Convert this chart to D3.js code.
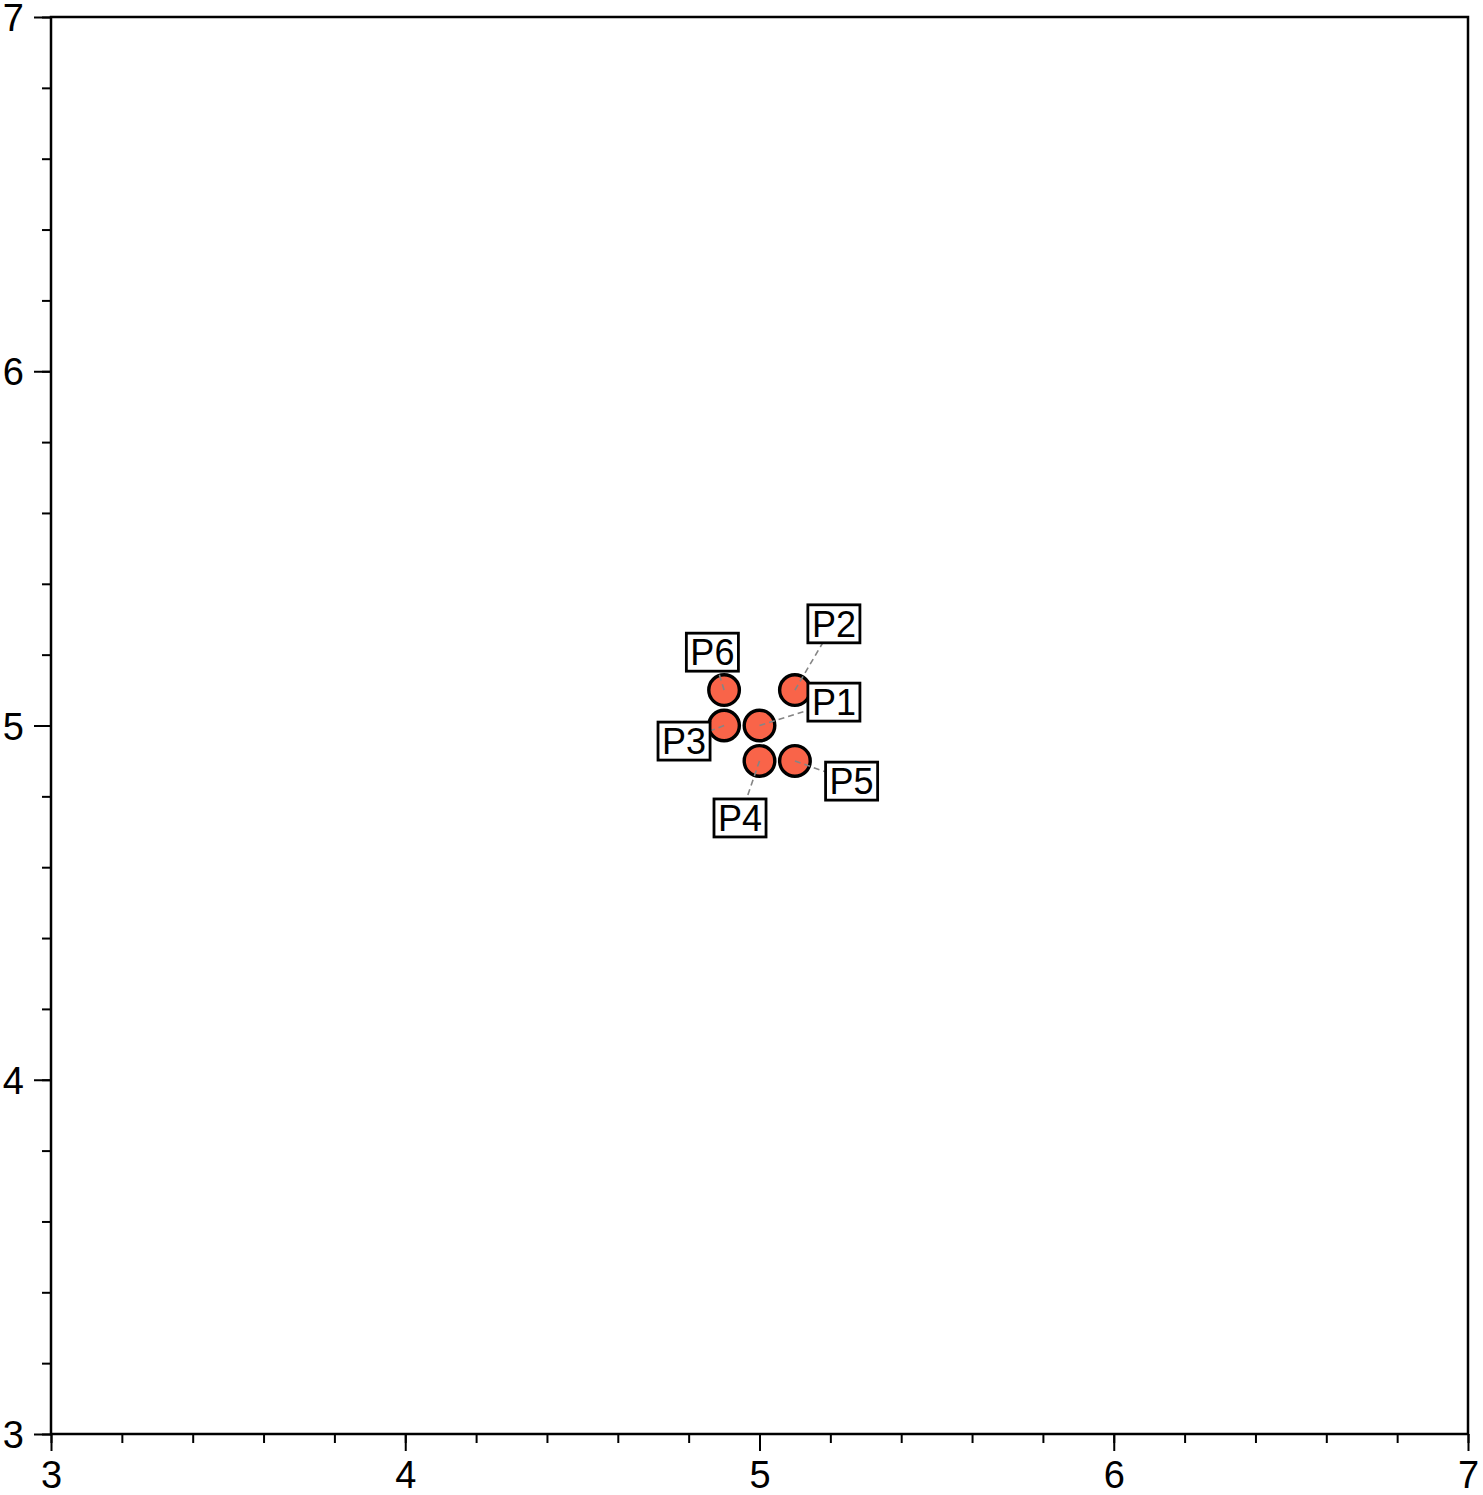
<!DOCTYPE html>
<html>
<head>
<meta charset="utf-8">
<script src="https://cdn.jsdelivr.net/npm/d3@7"></script>
<style>
  html, body { margin: 0; padding: 0; background: #fff; }
  svg { display: block; }
  text { font-family: "Liberation Sans", Arial, Helvetica, sans-serif; fill: #000; }
</style>
</head>
<body>
<svg id="chart" width="1483" height="1495"></svg>
<script>
// ---- data ----
const names  = ["P1", "P2", "P3", "P4", "P5", "P6"];
const xs     = [5.0, 5.1, 4.9, 5.0, 5.1, 4.9];
const ys     = [5.0, 5.1, 5.0, 4.9, 4.9, 5.1];
const labelXs = [5.21, 5.21, 4.787, 4.945, 5.26, 4.867];
const labelYs = [5.066, 5.287, 4.956, 4.739, 4.843, 5.207];
const xDomain = [3, 7];
const yDomain = [3, 7];
const majorTicks = [3, 4, 5, 6, 7];
const minorTicks = d3.range(3, 7.0001, 0.2);

(function () {
// ---- layout ----
const svg = d3.select("#chart");
const mL = 51, mR = 1468, mT = 17, mB = 1434;
const x = d3.scaleLinear().domain(xDomain).range([mL, mR]);
const y = d3.scaleLinear().domain(yDomain).range([mB, mT]);
const tickFont = 38;

// bottom axis
const xMinor = d3.axisBottom(x).tickValues(minorTicks).tickSize(9).tickFormat("");
const xMajor = d3.axisBottom(x).tickValues(majorTicks).tickSize(17).tickPadding(12).tickFormat(d3.format("d"));
const gxm = svg.append("g").attr("transform", `translate(0,${mB})`).call(xMinor);
const gx = svg.append("g").attr("transform", `translate(0,${mB})`).call(xMajor);
[gxm, gx].forEach(g => {
  g.select(".domain").remove();
  g.selectAll(".tick line").attr("stroke", "#000").attr("stroke-width", 2);
});
gx.selectAll(".tick text")
  .attr("font-size", tickFont).attr("fill", "#000")
  .attr("font-family", '"Liberation Sans", Arial, sans-serif')
  .attr("dy", null).attr("y", 54);

// left axis
const yMinor = d3.axisLeft(y).tickValues(minorTicks).tickSize(9).tickFormat("");
const yMajor = d3.axisLeft(y).tickValues(majorTicks).tickSize(17).tickPadding(10).tickFormat(d3.format("d"));
const gym = svg.append("g").attr("transform", `translate(${mL},0)`).call(yMinor);
const gy = svg.append("g").attr("transform", `translate(${mL},0)`).call(yMajor);
[gym, gy].forEach(g => {
  g.select(".domain").remove();
  g.selectAll(".tick line").attr("stroke", "#000").attr("stroke-width", 2);
});
gy.selectAll(".tick text")
  .attr("font-size", tickFont).attr("fill", "#000")
  .attr("font-family", '"Liberation Sans", Arial, sans-serif')
  .attr("dy", null).attr("y", 13.5);

// frame
svg.append("rect")
  .attr("x", mL).attr("y", mT)
  .attr("width", mR - mL).attr("height", mB - mT)
  .attr("fill", "none").attr("stroke", "#000").attr("stroke-width", 2.5);

// data
const pts = names.map((n, i) => ({ name: n, x: xs[i], y: ys[i], lx: labelXs[i], ly: labelYs[i] }));

// points
svg.append("g").selectAll("circle").data(pts).join("circle")
  .attr("cx", d => x(d.x)).attr("cy", d => y(d.y))
  .attr("r", 15.3)
  .attr("fill", "#f96449").attr("stroke", "#000").attr("stroke-width", 3.4);

// leader lines
svg.append("g").selectAll("line").data(pts).join("line")
  .attr("x1", d => x(d.x)).attr("y1", d => y(d.y))
  .attr("x2", d => x(d.lx)).attr("y2", d => y(d.ly))
  .attr("stroke", "#858585").attr("stroke-width", 1.6)
  .attr("stroke-dasharray", "6,4");

// labels
const lg = svg.append("g").selectAll("g").data(pts).join("g")
  .attr("transform", d => `translate(${x(d.lx)},${y(d.ly)})`);
lg.each(function (d) {
  const g = d3.select(this);
  const rect = g.append("rect");
  const t = g.append("text")
    .attr("text-anchor", "middle")
    .attr("font-size", 36)
    .attr("y", 13)
    .text(d.name);
  const bb = t.node().getBBox();
  const w = bb.width + 8, h = 38;
  rect.attr("x", -w / 2).attr("y", -h / 2).attr("width", w).attr("height", h)
    .attr("fill", "#fff").attr("stroke", "#000").attr("stroke-width", 2.8);
});
})();
</script>
</body>
</html>
